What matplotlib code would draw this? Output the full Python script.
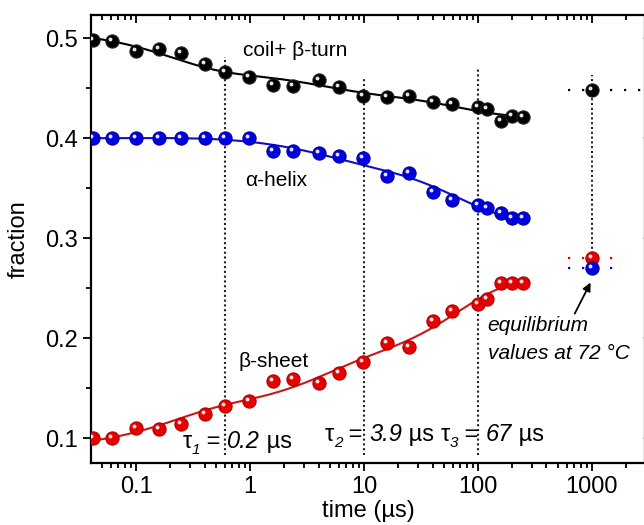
import numpy as np
import matplotlib.pyplot as plt
import matplotlib.transforms as mtransforms

plt.rcParams['font.family'] = ['Liberation Sans', 'DejaVu Sans']

# time points (us)
time = [0.042, 0.062, 0.1, 0.16, 0.25, 0.4, 0.6, 0.98, 1.6, 2.4, 4.0, 6.0, 9.8,
        16, 25, 40, 59, 100, 120, 160, 200, 250]

coil = [0.498, 0.497, 0.487, 0.489, 0.485, 0.474, 0.466, 0.461, 0.453, 0.452, 0.458,
        0.451, 0.442, 0.441, 0.442, 0.436, 0.434, 0.431, 0.429, 0.417, 0.422, 0.421]
helix = [0.4, 0.4, 0.4, 0.4, 0.4, 0.4, 0.4, 0.4, 0.387, 0.387, 0.385, 0.382, 0.38,
         0.362, 0.365, 0.346, 0.338, 0.333, 0.330, 0.325, 0.320, 0.320]
sheet = [0.1, 0.1, 0.11, 0.109, 0.114, 0.124, 0.132, 0.137, 0.157, 0.159, 0.155,
         0.165, 0.176, 0.195, 0.191, 0.217, 0.227, 0.234, 0.239, 0.255, 0.255, 0.255]

# equilibrium values at 72 C (plotted at t = 1000 us)
t_eq = 1000
eq_coil = 0.448
eq_sheet = 0.280
eq_helix = 0.270

taus = [0.2, 3.9, 67]
t_marks = [0.6, 10, 100]

fig = plt.figure(figsize=(6.44, 5.25), dpi=100)
ax = fig.add_axes([0.1413, 0.118, 0.860, 0.853])
ax.set_xscale('log')


def fit_curve(t, y, tt):
    # global three-exponential fit with fixed time constants
    t = np.asarray(t)
    A = np.column_stack([np.ones_like(t)] + [np.exp(-t / tau) for tau in taus])
    coef = np.linalg.lstsq(A, np.asarray(y), rcond=None)[0]
    B = np.column_stack([np.ones_like(tt)] + [np.exp(-tt / tau) for tau in taus])
    return B @ coef


def rich(x, y, parts):
    # pieces of text placed one after another (text, style, size, baseline shift)
    renderer = fig.canvas.get_renderer()
    dx = 0
    for s, style, size, dy in parts:
        tr = ax.transData + mtransforms.ScaledTranslation(dx / 72, dy / 72, fig.dpi_scale_trans)
        t = ax.text(x, y, s, transform=tr, fontsize=size, style=style, va='baseline')
        dx += t.get_window_extent(renderer).width * 72 / fig.dpi


tt = np.logspace(np.log10(0.04), np.log10(250), 300)
hl = mtransforms.ScaledTranslation(-1.4 / 72, 1.4 / 72, fig.dpi_scale_trans)

for y, c, lc, ec in [(coil, 'black', 'black', '#222222'),
                     (helix, '#0000e0', '#1010c0', '#0000a0'),
                     (sheet, '#e80000', '#c81818', '#b00000')]:
    ax.plot(tt, fit_curve(time, y, tt), color=lc, lw=1.5, zorder=2)
    ax.plot(time, y, 'o', ms=9.5, color=c, mec=ec, mew=0.8, zorder=3)
    ax.plot(time, y, 'o', ms=2.8, color='white', mew=0, alpha=0.9,
            transform=ax.transData + hl, zorder=4)

# vertical dotted markers
for tm, top in zip(t_marks, [0.481, 0.459, 0.469]):
    ax.plot([tm, tm], [0.083, top], color='#222222', lw=1.5, ls=(0, (1, 1.3)), zorder=1)
ax.plot([t_eq, t_eq], [eq_helix, 0.463], color='#222222', lw=1.5, ls=(0, (1, 1.3)), zorder=1)

# equilibrium points
for v, c, ec, x2 in [(eq_coil, 'black', '#222222', 2750), (eq_sheet, '#e80000', '#b00000', 1760),
                     (eq_helix, '#0000e0', '#0000a0', 1760)]:
    ax.plot([616, x2], [v, v], color=c, lw=1.6, ls=(0, (1, 5.3)), zorder=1)
    ax.plot([t_eq], [v], 'o', ms=9.5, color=c, mec=ec, mew=0.8, zorder=3)
    ax.plot([t_eq], [v], 'o', ms=2.8, color='white', mew=0, alpha=0.9,
            transform=ax.transData + hl, zorder=4)

ax.annotate('', xy=(t_eq, 0.258), xytext=(690, 0.222),
            arrowprops=dict(arrowstyle='-|>', color='black', lw=1.3, mutation_scale=12))

ax.text(0.87, 0.488, 'coil+ β-turn', fontsize=15, va='center')
ax.text(0.9, 0.358, 'α-helix', fontsize=15, va='center')
ax.text(0.785, 0.177, 'β-sheet', fontsize=15, va='center')
rich(0.255, 0.090, [('τ', 'normal', 17, 0), ('1', 'italic', 11, -4), (' = ', 'normal', 17, 0),
                    ('0.2', 'italic', 17, 0), (' µs', 'normal', 17, 0)])
rich(4.5, 0.097, [('τ', 'normal', 17, 0), ('2', 'italic', 11, -4), (' = ', 'normal', 17, 0),
                  ('3.9', 'italic', 17, 0), (' µs ', 'normal', 17, 0),
                  ('τ', 'normal', 17, 0), ('3', 'italic', 11, -4), (' = ', 'normal', 17, 0),
                  ('67', 'italic', 17, 0), (' µs', 'normal', 17, 0)])
ax.text(122, 0.213, 'equilibrium', fontsize=15, style='italic', va='center')
ax.text(122, 0.185, 'values at 72 °C', fontsize=15, style='italic', va='center')

ax.set_xlim(0.0402, 2920)
ax.set_ylim(0.075, 0.523)
ax.set_xticks([0.1, 1, 10, 100, 1000])
ax.set_xticklabels(['0.1', '1', '10', '100', '1000'])
ax.set_yticks([0.1, 0.2, 0.3, 0.4, 0.5])
ax.set_yticks([0.15, 0.25, 0.35, 0.45], minor=True)
ax.set_yticklabels(['0.1', '0.2', '0.3', '0.4', '0.5'])

for s in ax.spines.values():
    s.set_linewidth(1.6)
ax.tick_params(which='both', labelsize=17, width=1.3)
ax.tick_params(which='major', length=6)
ax.tick_params(which='minor', length=3.5)
ax.tick_params(axis='x', which='both', top=True, direction='out')
ax.tick_params(axis='y', which='both', right=True, direction='out')
# mirror ticks point inward on top/right
for t in ax.xaxis.get_major_ticks() + ax.xaxis.get_minor_ticks():
    t.tick2line.set_marker(3)
for t in ax.yaxis.get_major_ticks() + ax.yaxis.get_minor_ticks():
    t.tick2line.set_marker(4)

ax.set_xlabel('time (µs)', fontsize=17, labelpad=1)
ax.set_ylabel('fraction', fontsize=17, labelpad=11)

fig.savefig('out.png', dpi=100)
